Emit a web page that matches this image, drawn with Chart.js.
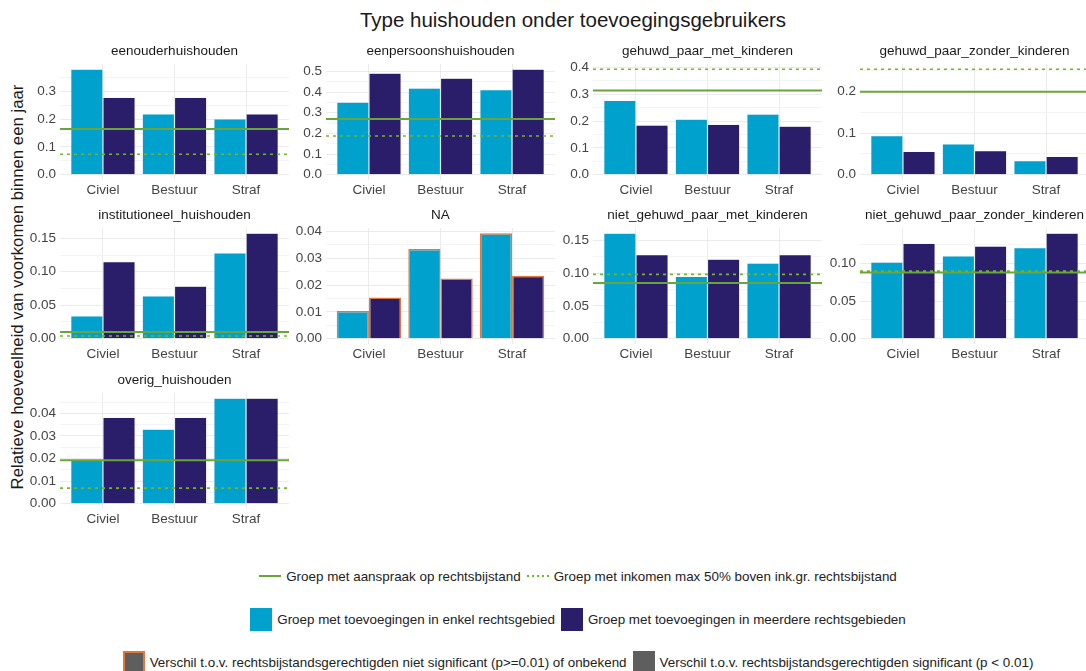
<!DOCTYPE html>
<html>
<head>
<meta charset="utf-8">
<script src="https://cdn.jsdelivr.net/npm/chart.js@4.4.1/dist/chart.umd.min.js"></script>
<style>
  body { margin: 0; width: 1086px; height: 671px; overflow: hidden; background: #fff;
         font-family: "Liberation Sans", Arial, sans-serif; color: #1a1a1a; position: relative; }
  .panel { position: absolute; }
  #title { position: absolute; left: 60px; width: 1026px; top: 9px; line-height: 22px;
           text-align: center; font-size: 20.5px; }
  #ytitle { position: absolute; left: 18px; top: 287px; white-space: nowrap; font-size: 16.8px;
            transform: translate(-50%, -50%) rotate(-90deg); }
  .legrow { position: absolute; left: 64px; width: 1022px; height: 24px; display: flex;
            justify-content: center; align-items: center; font-size: 13.4px; color: #222; white-space: nowrap; }
  .lkey { display: inline-block; width: 22px; height: 2px; margin: 0 5px 0 6px; }
  .sq { display: inline-block; width: 22px; height: 23px; margin: 0 5px 0 6px; box-sizing: border-box; }
</style>
</head>
<body>
<div id="title">Type huishouden onder toevoegingsgebruikers</div>
<div id="ytitle">Relatieve hoeveelheid van voorkomen binnen een jaar</div>
<div id="panels"></div>
<div id="legend"></div>

<script>
// categorieen en panelen
const categories = ['Civiel', 'Bestuur', 'Straf'];
const panelNames = ['eenouderhuishouden', 'eenpersoonshuishouden', 'gehuwd_paar_met_kinderen',
  'gehuwd_paar_zonder_kinderen', 'institutioneel_huishouden', 'NA',
  'niet_gehuwd_paar_met_kinderen', 'niet_gehuwd_paar_zonder_kinderen', 'overig_huishouden'];

// Groep met toevoegingen in enkel rechtsgebied
const enkelRechtsgebied = [
  [0.380, 0.219, 0.201],
  [0.351, 0.419, 0.411],
  [0.277, 0.207, 0.226],
  [0.094, 0.074, 0.034],
  [0.034, 0.064, 0.128],
  [0.0103, 0.0334, 0.0393],
  [0.1605, 0.0948, 0.1152],
  [0.1017, 0.110, 0.1209],
  [0.0196, 0.033, 0.0467]
];
// Groep met toevoegingen in meerdere rechtsgebieden
const meerdereRechtsgebieden = [
  [0.279, 0.279, 0.219],
  [0.491, 0.467, 0.510],
  [0.185, 0.188, 0.181],
  [0.056, 0.058, 0.044],
  [0.115, 0.0785, 0.1575],
  [0.0154, 0.0224, 0.0235],
  [0.128, 0.121, 0.128],
  [0.1267, 0.123, 0.140],
  [0.0382, 0.0382, 0.0467]
];
// referentielijnen
const aanspraakRechtsbijstand = [0.165, 0.270, 0.314, 0.200, 0.0099, null, 0.085, 0.088, 0.0192];
const inkomenMax50 = [0.074, 0.187, 0.393, 0.254, 0.004, null, 0.098, 0.0897, 0.0069];

// panelen waarin het verschil niet significant / onbekend is
const nietSignificant = ['NA'];

// y-as labels per paneel
const yTickLabels = [
  ['0.0', '0.1', '0.2', '0.3'],
  ['0.0', '0.1', '0.2', '0.3', '0.4', '0.5'],
  ['0.0', '0.1', '0.2', '0.3', '0.4'],
  ['0.0', '0.1', '0.2'],
  ['0.00', '0.05', '0.10', '0.15'],
  ['0.00', '0.01', '0.02', '0.03', '0.04'],
  ['0.00', '0.05', '0.10', '0.15'],
  ['0.00', '0.05', '0.10'],
  ['0.00', '0.01', '0.02', '0.03', '0.04']
];

const barNames = ['Groep met toevoegingen in enkel rechtsgebied', 'Groep met toevoegingen in meerdere rechtsgebieden'];
const lineNames = ['Groep met aanspraak op rechtsbijstand', 'Groep met inkomen max 50% boven ink.gr. rechtsbijstand'];
const sigNames = ['Verschil t.o.v. rechtsbijstandsgerechtigden niet significant (p>=0.01) of onbekend',
  'Verschil t.o.v. rechtsbijstandsgerechtigden significant (p < 0.01)'];

const lightBlue = '#00a1cd';
const navy = '#2a1d69';
const greenSolid = '#68a63c';
const greenDot = '#74b72c';
const orange = '#e0773c';
const grey = '#5e5e5e';

Chart.defaults.font.family = '"Liberation Sans", Arial, sans-serif';
Chart.defaults.animation = false;

// layout
const colLeft = [60, 326, 593, 860];
const rowTop = [64, 228, 393];
const axisW = 50, titleH = 22, plotW = 229, plotH = 116, xAxisH = 24;

const holder = document.getElementById('panels');

panelNames.forEach((name, i) => {
  const col = i % 4, row = Math.floor(i / 4);
  const div = document.createElement('div');
  div.className = 'panel';
  div.style.left = (colLeft[col] - axisW) + 'px';
  div.style.top = (rowTop[row] - titleH) + 'px';
  div.style.width = (axisW + plotW) + 'px';
  div.style.height = (titleH + plotH + xAxisH) + 'px';
  const canvas = document.createElement('canvas');
  div.appendChild(canvas);
  holder.appendChild(div);

  const ns = nietSignificant.includes(name);
  const refs = [aanspraakRechtsbijstand[i], inkomenMax50[i]];
  const maxVal = Math.max(...enkelRechtsgebied[i], ...meerdereRechtsgebieden[i], ...refs.filter(v => v !== null));

  const majors = yTickLabels[i].map(parseFloat);
  const step = majors[1] - majors[0];
  const yMin = -0.05 * maxVal, yMax = 1.05 * maxVal;
  const minors = [];
  majors.forEach(v => { if (v + step / 2 < yMax) minors.push(v + step / 2); });
  const allTicks = majors.concat(minors).sort((a, b) => a - b);
  const isMajor = v => majors.some(m => Math.abs(m - v) < 1e-9);
  const labelFor = v => {
    const k = majors.findIndex(m => Math.abs(m - v) < 1e-9);
    return k >= 0 ? yTickLabels[i][k] : '';
  };

  const datasets = [
    {
      type: 'bar', label: barNames[0], order: 1,
      data: categories.map((c, j) => ({ x: j + 1, y: enkelRechtsgebied[i][j] })),
      backgroundColor: lightBlue,
      borderColor: ns ? orange : 'rgba(220,220,245,0.45)',
      borderWidth: ns ? 1.5 : 0.6
    },
    {
      type: 'bar', label: barNames[1], order: 1,
      data: categories.map((c, j) => ({ x: j + 1, y: meerdereRechtsgebieden[i][j] })),
      backgroundColor: navy,
      borderColor: ns ? orange : 'rgba(220,220,245,0.45)',
      borderWidth: ns ? 1.5 : 0.6
    }
  ];
  if (refs[0] !== null) {
    datasets.push({
      type: 'line', label: lineNames[0], order: 0,
      data: [{ x: 0.4, y: refs[0] }, { x: 3.6, y: refs[0] }],
      borderColor: greenSolid, borderWidth: 2, pointRadius: 0
    });
  }
  if (refs[1] !== null) {
    datasets.push({
      type: 'line', label: lineNames[1], order: 0,
      data: [{ x: 0.4, y: refs[1] }, { x: 3.6, y: refs[1] }],
      borderColor: greenDot, borderWidth: 1.6, borderDash: [3, 4], pointRadius: 0
    });
  }

  new Chart(canvas, {
    type: 'bar',
    data: { datasets },
    options: {
      responsive: true,
      maintainAspectRatio: false,
      layout: { padding: 0 },
      categoryPercentage: 0.9,
      barPercentage: 1.0,
      plugins: {
        legend: { display: false },
        tooltip: { enabled: false },
        title: {
          display: true, text: name, fullSize: false,
          color: '#1a1a1a', font: { size: 13.5, weight: 'normal' },
          padding: { top: 1, bottom: 4.8 }
        }
      },
      scales: {
        x: {
          type: 'linear', min: 0.4, max: 3.6, bounds: 'data', offset: false,
          afterBuildTicks: s => { s.ticks = categories.map((c, j) => ({ value: j + 1 })); },
          afterFit: s => { s.height = xAxisH; },
          grid: { offset: false, drawTicks: false, color: '#ebebeb', lineWidth: 1 },
          border: { display: false },
          ticks: {
            autoSkip: false, maxRotation: 0, padding: 2, color: '#444',
            font: { size: 13.5 },
            callback: v => categories[Math.round(v) - 1]
          }
        },
        y: {
          min: yMin, max: yMax, bounds: 'data',
          afterBuildTicks: s => { s.ticks = allTicks.map(v => ({ value: v })); },
          afterFit: s => { s.width = axisW; },
          grid: {
            drawTicks: false,
            color: c => (c.tick && isMajor(c.tick.value)) ? '#ebebeb' : '#f4f4f4',
            lineWidth: 1
          },
          border: { display: false },
          ticks: {
            autoSkip: false, padding: 4, color: '#444',
            font: { size: 13.5 },
            callback: v => labelFor(v)
          }
        }
      }
    }
  });
});

// legenda (HTML)
const legend = document.getElementById('legend');
function row(top, html) {
  const d = document.createElement('div');
  d.className = 'legrow';
  d.style.top = top + 'px';
  d.innerHTML = html;
  legend.appendChild(d);
}
row(564,
  `<span class="lkey" style="background:${greenSolid}"></span><span>${lineNames[0]}</span>` +
  `<span class="lkey" style="background:repeating-linear-gradient(to right, ${greenDot} 0 2px, transparent 2px 5px)"></span><span>${lineNames[1]}</span>`);
row(607,
  `<span class="sq" style="background:${lightBlue}"></span><span>${barNames[0]}</span>` +
  `<span class="sq" style="background:${navy}"></span><span>${barNames[1]}</span>`);
row(650,
  `<span class="sq" style="background:${grey};border:2px solid ${orange}"></span><span>${sigNames[0]}</span>` +
  `<span class="sq" style="background:${grey}"></span><span>${sigNames[1]}</span>`);
</script>
</body>
</html>
